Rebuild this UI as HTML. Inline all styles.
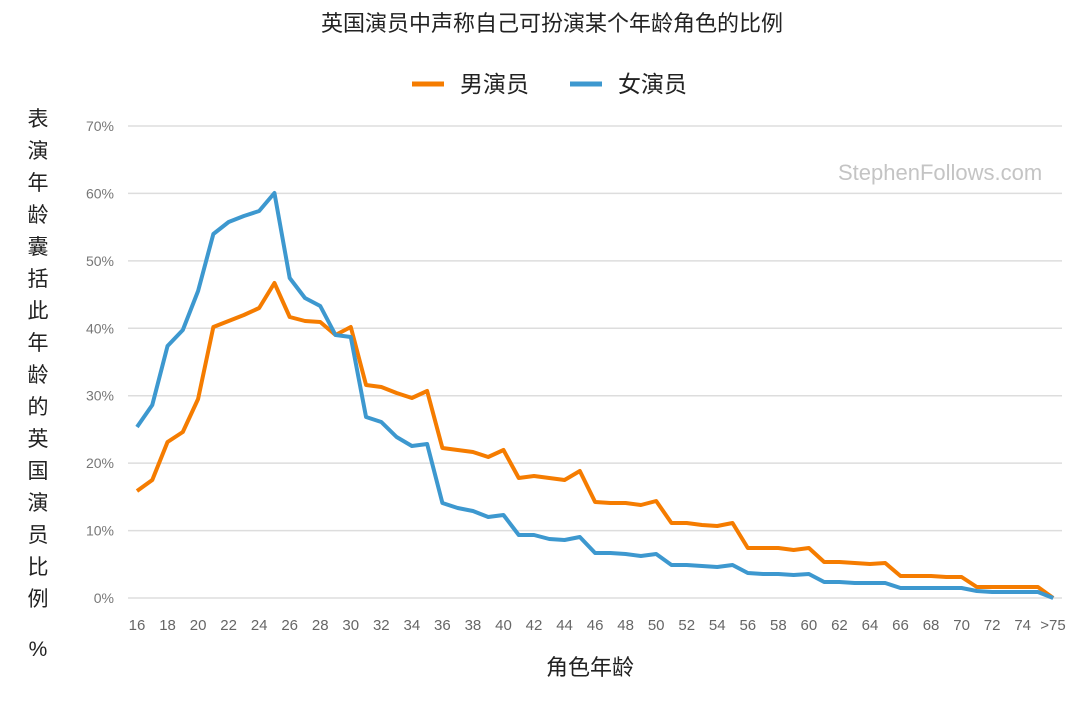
<!DOCTYPE html><html><head><meta charset="utf-8"><style>
body{margin:0;width:1080px;height:700px;background:#fff;overflow:hidden;font-family:"Liberation Sans","Noto Sans CJK SC",sans-serif}
</style></head><body>
<svg id="s" width="1080" height="700" xmlns="http://www.w3.org/2000/svg" font-family="Liberation Sans, Noto Sans CJK SC, sans-serif">
<text x="552" y="31" font-size="22" text-anchor="middle" fill="#222">英国演员中声称自己可扮演某个年龄角色的比例</text>
<line x1="412" y1="84" x2="444" y2="84" stroke="#f57c00" stroke-width="5"/>
<text x="460" y="92" font-size="23" fill="#222">男演员</text>
<line x1="570" y1="84" x2="602" y2="84" stroke="#3d98cf" stroke-width="5"/>
<text x="618" y="92" font-size="23" fill="#222">女演员</text>
<text x="838" y="180" font-size="22" fill="#c4c4c4">StephenFollows.com</text>
<g id="g"></g>
<text x="590" y="675" font-size="22" text-anchor="middle" fill="#222">角色年龄</text>
</svg>
<script>
var s=document.getElementById('g'),h='';
for(var i=0;i<=7;i++){var y=598-i*67.43;h+='<line x1="128" x2="1062" y1="'+y+'" y2="'+y+'" stroke="#ddd" stroke-width="1.5"/>';
h+='<text x="114" y="'+(y+5)+'" font-size="14" text-anchor="end" fill="#777">'+(i*10)+'%</text>';}
function X(i){return 137+i*15.27;}
for(var a=16;a<=74;a+=2)h+='<text x="'+X(a-16)+'" y="630" font-size="15" text-anchor="middle" fill="#666">'+a+'</text>';
h+='<text x="1053" y="630" font-size="15" text-anchor="middle" fill="#666">&gt;75</text>';
var B=[427,405,346,330,291,234,222,216,211,193,278,298,306,335,337,417,422,437,446,444,503,508,511,517,515,535,535,539,540,537,553,553,554,556,554,565,565,566,567,565,573,574,574,575,574,582,582,583,583,583,588,588,588,588,588,591,592,592,592,592,598];
var O=[491,480,442,432,399,327,321,315,308,283,317,321,322,335,327,385,387,393,398,391,448,450,452,457,450,478,476,478,480,471,502,503,503,505,501,523,523,525,526,523,548,548,548,550,548,562,562,563,564,563,576,576,576,577,577,587,587,587,587,587,598];
function P(a,c){return '<polyline fill="none" stroke="'+c+'" stroke-width="4" stroke-linejoin="round" points="'+a.map(function(v,i){return X(i)+','+v}).join(' ')+'"/>';}
h+=P(O,'#f57c00')+P(B,'#3d98cf');
var t='表演年龄囊括此年龄的英国演员比例';
for(var k=0;k<t.length;k++)h+='<text x="38" y="'+(126+k*32)+'" font-size="21" text-anchor="middle" fill="#222">'+t[k]+'</text>';
h+='<text x="38" y="656" font-size="21" text-anchor="middle" fill="#222">%</text>';
s.innerHTML=h;
</script>
</body></html>
